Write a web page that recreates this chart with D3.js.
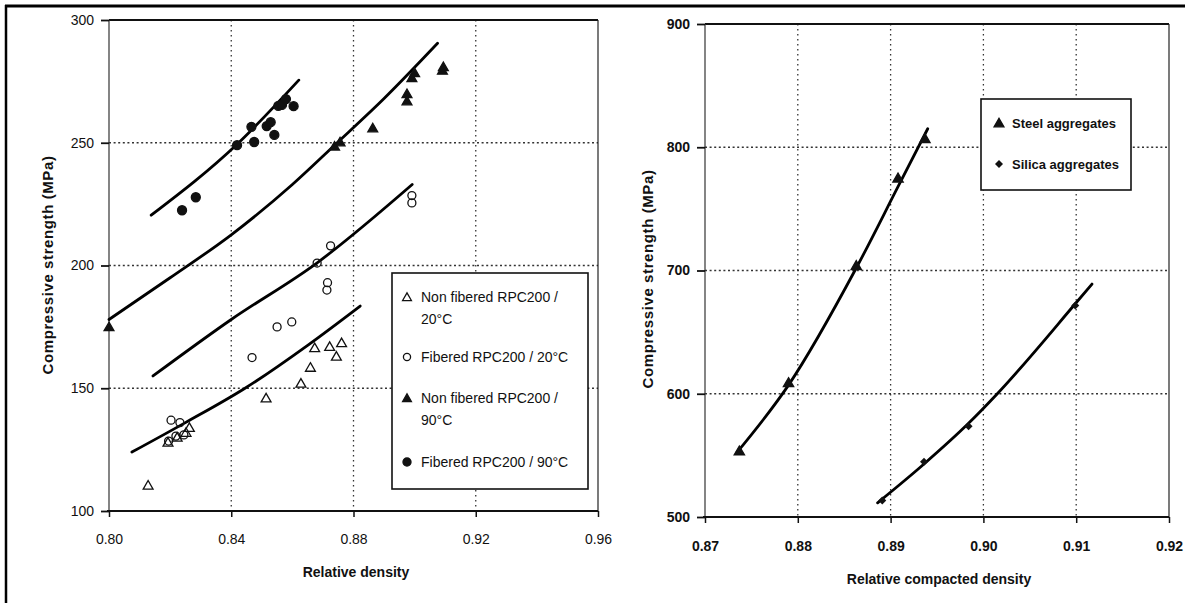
<!DOCTYPE html>
<html>
<head>
<meta charset="utf-8">
<script src="https://cdn.jsdelivr.net/npm/d3@7"></script>
<style>
  body { margin: 0; background: #fff; }
  svg { display: block; font-family: "Liberation Sans", Arial, sans-serif; }
  .tick text { fill: #111; }
</style>
</head>
<body>
<div id="chart"></div>
<script>
// ---- left panel: RPC200 ----
const leftXTicks = [0.80, 0.84, 0.88, 0.92, 0.96];
const leftYTicks = [100, 150, 200, 250, 300];

const nonFib20 = [[0.8128,110.5],[0.8193,128],[0.8223,130],[0.8252,132],[0.8263,134],[0.8514,146],
  [0.8628,152],[0.8659,158.5],[0.8673,166.5],[0.8722,167],[0.8744,163],[0.8761,168.5]];
const fib20 = [[0.8203,137],[0.8232,136],[0.8195,128.5],[0.8219,130.5],[0.8245,131],[0.8468,162.5],
  [0.8550,175],[0.8598,177],[0.8681,201],[0.8713,190],[0.8715,193],[0.8725,208],[0.8991,225.5],[0.8991,228.5]];
const nonFib90 = [[0.80,175],[0.8738,248.6],[0.8756,250.3],[0.8863,256],[0.8975,267],[0.8975,270],
  [0.8991,276.5],[0.9000,278.5],[0.9091,279.5],[0.9094,281]];
const fib90 = [[0.8239,222.5],[0.8284,227.8],[0.8419,249],[0.8466,256.5],[0.8475,250.3],[0.8516,256.8],
  [0.8529,258.4],[0.8541,253.2],[0.8554,265],[0.8566,265.4],[0.8579,267.8],[0.8604,264.9]];

// fitted curves
const fitNonFib20 = [[0.8075,124],[0.825,136],[0.8445,150],[0.865,167.5],[0.8822,183.5]];
const fitFib20 = [[0.8144,155],[0.84,178],[0.868,201],[0.8992,233]];
const fitNonFib90 = [[0.80,178],[0.82,195],[0.84,212.5],[0.86,233],[0.8738,249],[0.89,268],[0.9075,290.5]];
const fitFib90 = [[0.8138,220.5],[0.842,249.5],[0.8621,275.5]];

const leftLegend = [
  {sym: "triOpen", lines: ["Non fibered RPC200 /", "20°C"]},
  {sym: "circOpen", lines: ["Fibered RPC200 / 20°C"]},
  {sym: "triFill", lines: ["Non fibered RPC200 /", "90°C"]},
  {sym: "circFill", lines: ["Fibered RPC200 / 90°C"]}
];

// ---- right panel: aggregates ----
const rightXTicks = [0.87, 0.88, 0.89, 0.90, 0.91, 0.92];
const rightYTicks = [500, 600, 700, 800, 900];
const steel = [[0.8737,553.6],[0.8790,609],[0.8863,704],[0.8908,775],[0.8937,807]];
const silica = [[0.8891,513.4],[0.8936,544.8],[0.8984,573.7],[0.9099,671.6]];
const fitSteel = [[0.8734,552],[0.879,607],[0.8863,702],[0.8908,768],[0.894,815]];
const fitSilica = [[0.8886,511.5],[0.8936,543],[0.8984,576],[0.9015,600],[0.9099,673],[0.9117,689]];
const rightLegend = [
  {sym: "triFill", lines: ["Steel aggregates"]},
  {sym: "diamond", lines: ["Silica aggregates"]}
];

const W = 1185, H = 603;
const svg = d3.select("#chart").append("svg")
  .attr("width", W).attr("height", H)
  .attr("viewBox", [0, 0, W, H]);

// outer frame of the scan
svg.append("line").attr("x1", 5).attr("x2", W).attr("y1", 6).attr("y2", 6)
  .attr("stroke", "#000").attr("stroke-width", 3);
svg.append("line").attr("x1", 6).attr("x2", 6).attr("y1", 5).attr("y2", H)
  .attr("stroke", "#000").attr("stroke-width", 2.5);

function drawSymbol(g, type, x, y, scale) {
  const s = scale || 1;
  if (type === "triOpen" || type === "triFill") {
    g.append("path")
      .attr("d", d3.symbol(d3.symbolTriangle, 42 * s)())
      .attr("transform", `translate(${x},${y + 1})`)
      .attr("fill", type === "triFill" ? "#111" : "none")
      .attr("stroke", "#111").attr("stroke-width", 1.3);
  } else if (type === "circOpen" || type === "circFill") {
    g.append("circle").attr("cx", x).attr("cy", y)
      .attr("r", (type === "circFill" ? 4.5 : 4) * Math.sqrt(s))
      .attr("fill", type === "circFill" ? "#111" : "none")
      .attr("stroke", "#111").attr("stroke-width", 1.3);
  } else if (type === "diamond") {
    g.append("path")
      .attr("d", d3.symbol(d3.symbolSquare, 32 * s)())
      .attr("transform", `translate(${x},${y}) rotate(45)`)
      .attr("fill", "#111");
  }
}

function panel(conf) {
  const g = svg.append("g");
  const x = d3.scaleLinear(conf.xDomain, conf.xRange);
  const y = d3.scaleLinear(conf.yDomain, conf.yRange);
  const [x0, x1] = conf.xRange, [y0, y1] = conf.yRange;

  // dotted grid
  g.append("g").selectAll("line").data(conf.xTicks.slice(1, -1)).join("line")
    .attr("x1", d => x(d)).attr("x2", d => x(d)).attr("y1", y1).attr("y2", y0)
    .attr("stroke", "#333").attr("stroke-width", 1.3).attr("stroke-dasharray", "1.6,3.4");
  g.append("g").selectAll("line").data(conf.yTicks.slice(1, -1)).join("line")
    .attr("x1", x0).attr("x2", x1).attr("y1", d => y(d)).attr("y2", d => y(d))
    .attr("stroke", "#333").attr("stroke-width", 1.6).attr("stroke-dasharray", "2,2.6");

  // frame
  g.append("line").attr("x1", x0).attr("x2", x1).attr("y1", y1).attr("y2", y1)
    .attr("stroke", "#111").attr("stroke-width", 2);
  g.append("line").attr("x1", x1).attr("x2", x1).attr("y1", y1).attr("y2", y0)
    .attr("stroke", "#222").attr("stroke-width", 1.2);
  g.append("line").attr("x1", x0).attr("x2", x0).attr("y1", y1).attr("y2", y0)
    .attr("stroke", "#333").attr("stroke-width", 1.2);
  g.append("line").attr("x1", x0 - 2).attr("x2", x1).attr("y1", y0).attr("y2", y0)
    .attr("stroke", "#111").attr("stroke-width", 2.2);

  // axes
  const yAxis = d3.axisLeft(y).tickValues(conf.yTicks).tickSize(8).tickPadding(7).tickFormat(d3.format("d"));
  g.append("g").attr("transform", `translate(${x0},0)`).call(yAxis)
    .call(a => a.select(".domain").remove())
    .call(a => a.selectAll(".tick line").attr("stroke", "#111").attr("stroke-width", 1.8))
    .call(a => a.selectAll(".tick text").attr("font-size", 14).attr("font-weight", conf.bold ? "bold" : "normal"));
  const xAxis = d3.axisBottom(x).tickValues(conf.xTicks).tickSize(6).tickPadding(conf.xPad).tickFormat(d3.format(".2f"));
  g.append("g").attr("transform", `translate(0,${y0})`).call(xAxis)
    .call(a => a.select(".domain").remove())
    .call(a => a.selectAll(".tick line").attr("stroke", "#111").attr("stroke-width", 1.5))
    .call(a => a.selectAll(".tick text").attr("font-size", 14).attr("font-weight", conf.bold ? "bold" : "normal"));

  // titles
  g.append("text").attr("x", conf.xTitle[0]).attr("y", conf.xTitle[1])
    .attr("text-anchor", "middle").attr("font-size", 14).attr("font-weight", "bold").attr("fill", "#111")
    .text(conf.xLabel);
  g.append("text").attr("transform", `translate(${conf.yTitle[0]},${conf.yTitle[1]}) rotate(-90)`)
    .attr("text-anchor", "middle").attr("font-size", 15).attr("font-weight", "bold").attr("fill", "#111")
    .attr("letter-spacing", 0.6).attr("dy", "0.35em")
    .text(conf.yLabel);

  // fitted curves
  const line = d3.line().curve(d3.curveMonotoneX).x(d => x(d[0])).y(d => y(d[1]));
  conf.fits.forEach(f => {
    g.append("path").attr("d", line(f)).attr("fill", "none")
      .attr("stroke", "#000").attr("stroke-width", 2.8).attr("stroke-linecap", "round");
  });

  // points
  conf.series.forEach(s => {
    s.data.forEach(d => drawSymbol(g, s.sym, x(d[0]), y(d[1]), s.scale));
  });

  // legend
  const L = conf.legend;
  g.append("rect").attr("x", L.box[0]).attr("y", L.box[1]).attr("width", L.box[2]).attr("height", L.box[3])
    .attr("fill", "#fff").attr("stroke", "#111").attr("stroke-width", 1.6);
  L.items.forEach((it, i) => {
    const ly = L.rows[i];
    drawSymbol(g, it.sym, L.symX, ly, L.symScale);
    it.lines.forEach((t, j) => {
      g.append("text").attr("x", L.textX).attr("y", ly + j * L.lineGap).attr("dy", "0.35em")
        .attr("font-size", L.fontSize).attr("font-weight", L.bold ? "bold" : "normal").attr("fill", "#111")
        .text(t);
    });
  });
}

panel({
  xDomain: [0.80, 0.96], xRange: [109, 598],
  yDomain: [100, 300], yRange: [511, 20],
  xTicks: leftXTicks, yTicks: leftYTicks, xPad: 17, bold: false,
  xLabel: "Relative density", xTitle: [356, 577],
  yLabel: "Compressive strength  (MPa)", yTitle: [48, 265],
  fits: [fitNonFib20, fitFib20, fitNonFib90, fitFib90],
  series: [
    {sym: "triOpen", data: nonFib20},
    {sym: "circOpen", data: fib20},
    {sym: "triFill", data: nonFib90},
    {sym: "circFill", data: fib90}
  ],
  legend: {box: [392, 273, 196, 216], items: leftLegend, rows: [297, 357, 398, 462],
    lineGap: 22, symX: 407, textX: 421, fontSize: 14, bold: false, symScale: 0.8}
});

panel({
  xDomain: [0.87, 0.92], xRange: [705, 1169],
  yDomain: [500, 900], yRange: [517, 24],
  xTicks: rightXTicks, yTicks: rightYTicks, xPad: 18, bold: true,
  xLabel: "Relative compacted density", xTitle: [939, 584],
  yLabel: "Compressive strength (MPa)", yTitle: [648, 279],
  fits: [fitSteel, fitSilica],
  series: [
    {sym: "triFill", data: steel, scale: 1.1},
    {sym: "diamond", data: silica, scale: 1}
  ],
  legend: {box: [981, 99, 150, 91], items: rightLegend, rows: [123, 164],
    lineGap: 0, symX: 999, textX: 1012, fontSize: 13, bold: true, symScale: 1}
});
</script>
</body>
</html>
